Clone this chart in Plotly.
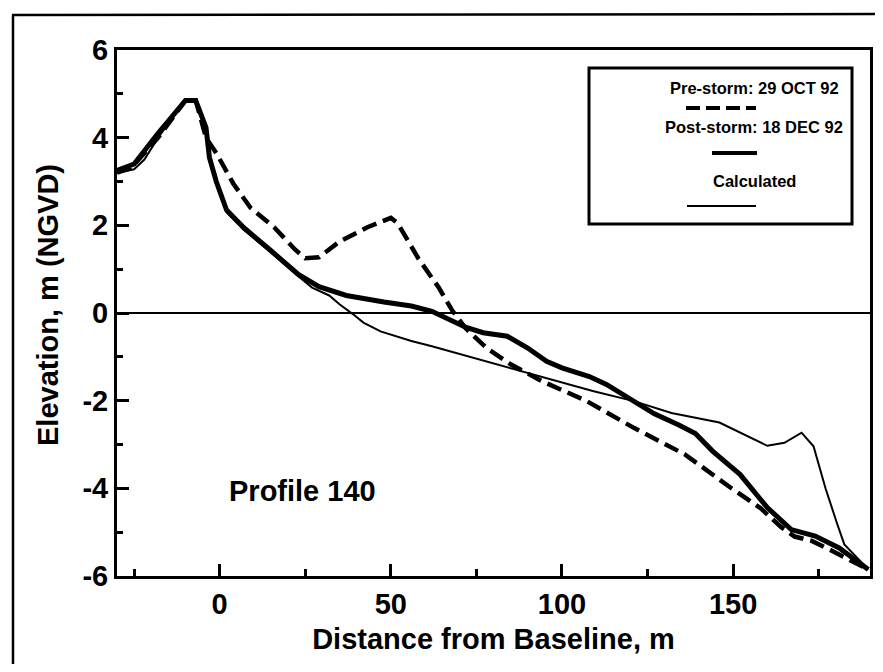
import plotly.graph_objects as go

# ---- data ----
pre_x = [-30, -26, -18, -10, -7, -4, -1, 4, 9, 16, 22, 25, 29, 35, 43, 50, 52, 58, 64, 68,
         72, 78, 85, 94, 107, 121, 136, 149, 158, 164, 168, 173, 179, 189.5]
pre_y = [3.2, 3.3, 4.0, 4.85, 4.85, 4.0, 3.65, 2.95, 2.4, 1.95, 1.45, 1.25, 1.27, 1.63, 1.95, 2.17, 2.05, 1.25, 0.58, 0.05,
         -0.36, -0.8, -1.17, -1.55, -2.0, -2.62, -3.23, -3.97, -4.45, -4.88, -5.1, -5.2, -5.43, -5.85]

post_x = [-30, -25, -18, -10, -7, -4, -3, -1, 2, 7, 15, 23, 29, 37, 48, 56, 62, 67, 72, 77,
          84, 90, 95.5, 100, 105, 108, 113, 120, 127, 134, 139, 144, 152, 160, 167, 174, 181, 189.5]
post_y = [3.25, 3.4, 4.1, 4.85, 4.85, 4.23, 3.55, 3.0, 2.35, 1.95, 1.42, 0.88, 0.6, 0.4, 0.25, 0.16, 0.04, -0.14, -0.33, -0.45,
          -0.53, -0.8, -1.10, -1.25, -1.36, -1.45, -1.63, -1.97, -2.3, -2.55, -2.75, -3.15, -3.68, -4.44, -4.94, -5.09, -5.36, -5.85]

calc_x = [-30, -25, -22, -18, -10, -7, -4, -3, -1, 2, 7, 15, 22, 27, 32, 35, 39, 42, 47, 52,
          56, 62, 67, 75, 82, 90, 98, 109, 121, 132, 146, 153, 160, 165, 170, 173.5, 177, 180.5, 182.5, 189.5]
calc_y = [3.2, 3.28, 3.5, 4.0, 4.85, 4.85, 4.23, 3.55, 3.0, 2.3, 1.9, 1.38, 0.9, 0.58, 0.4, 0.2, -0.03, -0.22, -0.42, -0.55,
          -0.64, -0.76, -0.87, -1.03, -1.2, -1.36, -1.55, -1.78, -2.01, -2.28, -2.5, -2.77, -3.03, -2.96, -2.73, -3.04, -4.0, -4.83, -5.28, -5.85]

x_ticks = [0, 50, 100, 150]
x_tick_labels = ["0", "50", "100", "150"]
x_minor = [-25, 25, 75, 125, 175]
y_ticks = [-6, -4, -2, 0, 2, 4, 6]
y_tick_labels = ["-6", "-4", "-2", "0", "2", "4", "6"]
y_minor = [-5, -3, -1, 1, 3, 5]

legend_labels = ["Pre-storm: 29 OCT 92", "Post-storm: 18 DEC 92", "Calculated"]
x_title = "Distance from Baseline, m"
y_title = "Elevation, m (NGVD)"
panel_label = "Profile 140"

FONT = "Liberation Sans, Arial, Helvetica, sans-serif"

fig = go.Figure()
fig.add_trace(go.Scatter(x=calc_x, y=calc_y, mode="lines",
                         line=dict(color="black", width=2), name=legend_labels[2]))
fig.add_trace(go.Scatter(x=post_x, y=post_y, mode="lines",
                         line=dict(color="black", width=5), name=legend_labels[1]))
fig.add_trace(go.Scatter(x=pre_x, y=pre_y, mode="lines",
                         line=dict(color="black", width=4.5, dash="15px,7px"), name=legend_labels[0]))

axis_common = dict(
    showline=True, linecolor="black", linewidth=3, mirror=True,
    ticks="inside", ticklen=12, tickwidth=3, tickcolor="black",
    showgrid=False,
    tickfont=dict(family=FONT, size=29, color="black", weight="bold"),
)

fig.update_xaxes(range=[-30, 190], tickmode="array", tickvals=x_ticks, ticktext=x_tick_labels,
                 zeroline=False,
                 minor=dict(tickvals=x_minor, ticks="inside", ticklen=7, tickwidth=3, tickcolor="black"),
                 title=dict(text=x_title, standoff=10,
                            font=dict(family=FONT, size=29, color="black", weight="bold")),
                 ticklabelstandoff=0,
                 **axis_common)
fig.update_yaxes(range=[-6, 6], tickmode="array", tickvals=y_ticks, ticktext=y_tick_labels,
                 zeroline=True, zerolinecolor="black", zerolinewidth=2,
                 minor=dict(tickvals=y_minor, ticks="inside", ticklen=6, tickwidth=3, tickcolor="black"),
                 ticklabelstandoff=0,
                 **axis_common)

# the page places the figure 8px from the top-left corner of the window;
# size it so that it fits inside the window without scrollbars
OX, OY = 8, 8
W, H = 883 - 2 * OX, 672 - 2 * OY
PL, PR, PT, PB = 117, 870, 50, 576   # plot area on screen
L, T = PL - OX, PT - OY
R = W - (PR - OX)
B = H - (PB - OY)
pw, ph = PR - PL, PB - PT

def px_x(p):
    return (p - PL) / pw

def px_y(p):
    return (PB - p) / ph

FIG_RIGHT = OX + W
FIG_BOTTOM = OY + H

shapes = []
# outer frame (left and top edges; the rest falls outside the picture)
shapes.append(dict(type="line", xref="paper", yref="paper",
                   x0=px_x(13), x1=px_x(13), y0=px_y(FIG_BOTTOM), y1=px_y(15),
                   line=dict(color="black", width=2.5), layer="above"))
shapes.append(dict(type="line", xref="paper", yref="paper",
                   x0=px_x(12), x1=px_x(FIG_RIGHT), y0=px_y(15), y1=px_y(14),
                   line=dict(color="black", width=2.5), layer="above"))
# legend box
shapes.append(dict(type="rect", xref="paper", yref="paper",
                   x0=px_x(589), x1=px_x(852), y0=px_y(224), y1=px_y(68),
                   line=dict(color="black", width=3), fillcolor="white", layer="above"))
# legend samples
shapes.append(dict(type="line", xref="paper", yref="paper",
                   x0=px_x(686), x1=px_x(756), y0=px_y(108), y1=px_y(108),
                   line=dict(color="black", width=4, dash="14px,6px"), layer="above"))
shapes.append(dict(type="line", xref="paper", yref="paper",
                   x0=px_x(712), x1=px_x(757), y0=px_y(153), y1=px_y(153),
                   line=dict(color="black", width=4), layer="above"))
shapes.append(dict(type="line", xref="paper", yref="paper",
                   x0=px_x(687), x1=px_x(756), y0=px_y(206), y1=px_y(206),
                   line=dict(color="black", width=2), layer="above"))

annotations = []
for lab, yy in zip(legend_labels, [88, 127, 181]):
    annotations.append(dict(xref="paper", yref="paper", x=px_x(754), y=px_y(yy),
                            text=lab, showarrow=False, xanchor="center", yanchor="middle",
                            font=dict(family=FONT, size=16.5, color="black", weight="bold")))
annotations.append(dict(xref="x", yref="y", x=2, y=-4.05, text=panel_label, showarrow=False,
                        xanchor="left", yanchor="middle",
                        font=dict(family=FONT, size=29, color="black", weight="bold")))
annotations.append(dict(xref="paper", yref="paper", x=px_x(48), y=px_y(305), text=y_title,
                        showarrow=False, textangle=-90, xanchor="center", yanchor="middle",
                        font=dict(family=FONT, size=29, color="black", weight="bold")))

fig.update_layout(
    width=W, height=H,
    margin=dict(l=L, r=R, t=T, b=B, autoexpand=False),
    paper_bgcolor="white", plot_bgcolor="white",
    showlegend=False,
    shapes=shapes, annotations=annotations,
)

fig.write_html("out.html")
